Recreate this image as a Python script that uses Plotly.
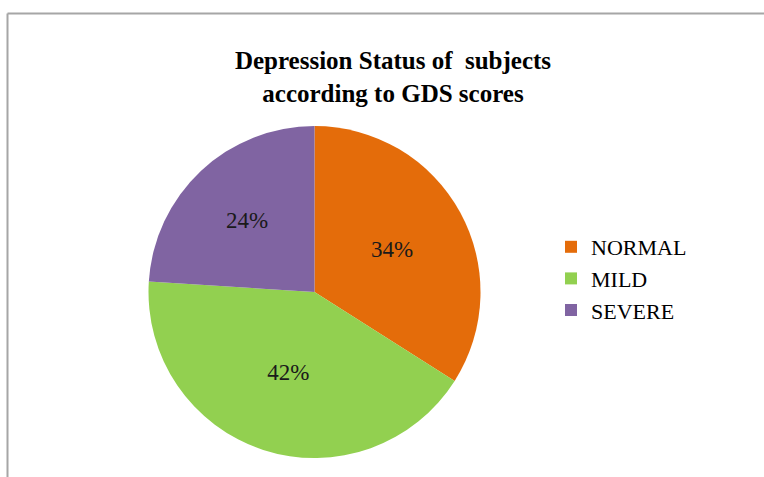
import plotly.graph_objects as go

categories = ["NORMAL", "MILD", "SEVERE"]
percent_values = [34, 42, 24]
slice_colors = ["#E46C0A", "#92D050", "#8064A2"]
title_lines = ["Depression Status of  subjects", "according to GDS scores"]

W, H = 764, 477
FONT = "Liberation Serif"

fig = go.Figure(
    go.Pie(
        labels=categories,
        values=percent_values,
        marker=dict(colors=slice_colors, line=dict(width=0)),
        sort=False,
        direction="clockwise",
        rotation=0,
        textinfo="percent",
        texttemplate="%{percent:.0%}",
        textposition="inside",
        insidetextorientation="horizontal",
        textfont=dict(family=FONT, size=23, color="#1a1a1a"),
        domain=dict(x=[148 / W, 481 / W], y=[1 - 458 / H, 1 - 126 / H]),
        hoverinfo="label+percent",
    )
)

fig.update_layout(
    width=W,
    height=H,
    margin=dict(l=0, r=0, t=0, b=0),
    paper_bgcolor="white",
    plot_bgcolor="white",
    font=dict(family=FONT),
    title=dict(
        text="<b>" + title_lines[0].replace("  ", " &nbsp;") + "<br>" + title_lines[1] + "</b>",
        x=393 / W,
        xanchor="center",
        y=1 - 69 / H,
        yanchor="top",
        font=dict(family=FONT, size=25, color="#000000"),
    ),
    legend=dict(
        x=551 / W,
        xanchor="left",
        y=1 - 226 / H,
        yanchor="top",
        font=dict(family=FONT, size=22, color="#000000"),
        bgcolor="rgba(0,0,0,0)",
        itemclick=False,
    ),
    showlegend=True,
    shapes=[
        dict(type="line", xref="paper", yref="paper",
             x0=7.5 / W, x1=1, y0=1 - 13.5 / H, y1=1 - 13.5 / H,
             line=dict(color="#A6A6A6", width=2)),
        dict(type="line", xref="paper", yref="paper",
             x0=7.5 / W, x1=7.5 / W, y0=0, y1=1 - 13.5 / H,
             line=dict(color="#A6A6A6", width=2)),
    ],
)

fig.write_html("out.html")
